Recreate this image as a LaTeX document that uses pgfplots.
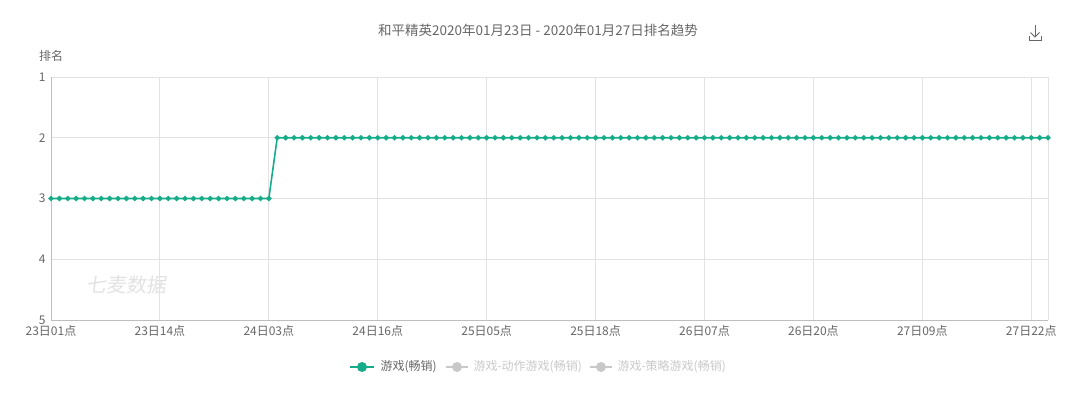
\documentclass[border=0pt]{standalone}
\usepackage{fontspec}
\setmainfont{Noto Sans CJK SC}
\usepackage{pgfplots}
\pgfplotsset{compat=1.18}
\definecolor{lgreen}{RGB}{22,172,138}
\definecolor{tgray}{RGB}{102,102,102}
\definecolor{lgray}{RGB}{200,200,200}
\definecolor{ggray}{RGB}{226,226,226}
\definecolor{agray}{RGB}{190,190,190}
\begin{document}
\begin{tikzpicture}[x=1pt,y=1pt]
\path[use as bounding box] (0,0) rectangle (1080,392);
\begin{axis}[
  at={(51pt,72pt)}, anchor=south west,
  scale only axis, width=997pt, height=243pt,
  y dir=reverse, ymin=1, ymax=5, ytick={1,2,3,4,5},
  xmin=0, xmax=119,
  xtick={0,13,26,39,52,65,78,91,104,117},
  xticklabels={23日01点,23日14点,24日03点,24日16点,25日05点,25日18点,26日07点,26日20点,27日09点,27日22点},
  extra x ticks={119}, extra x tick labels={},
  extra x tick style={grid=major, major grid style={ggray, line width=1pt}},
  grid=major, major grid style={ggray, line width=1pt},
  axis x line*=bottom, axis y line*=left,
  axis line style={agray, line width=1pt, -},
  major tick length=0pt,
  tick label style={font=\fontsize{12}{14}\selectfont, text=tgray},
  xticklabel style={yshift=-2pt},
  yticklabel style={xshift=-2pt},
  /pgf/number format/assume math mode=true,
  clip=false,
]
\addplot[lgreen, line width=1.6pt, mark=*, mark size=1.8pt, mark options={fill=lgreen, draw=lgreen}] coordinates {
(0,3)(1,3)(2,3)(3,3)(4,3)(5,3)(6,3)(7,3)(8,3)(9,3)(10,3)(11,3)(12,3)(13,3)(14,3)(15,3)(16,3)(17,3)(18,3)(19,3)(20,3)(21,3)(22,3)(23,3)(24,3)(25,3)(26,3)
(27,2)(28,2)(29,2)(30,2)(31,2)(32,2)(33,2)(34,2)(35,2)(36,2)(37,2)(38,2)(39,2)(40,2)(41,2)(42,2)(43,2)(44,2)(45,2)(46,2)(47,2)(48,2)(49,2)
(50,2)(51,2)(52,2)(53,2)(54,2)(55,2)(56,2)(57,2)(58,2)(59,2)(60,2)(61,2)(62,2)(63,2)(64,2)(65,2)(66,2)(67,2)(68,2)(69,2)(70,2)(71,2)(72,2)(73,2)(74,2)
(75,2)(76,2)(77,2)(78,2)(79,2)(80,2)(81,2)(82,2)(83,2)(84,2)(85,2)(86,2)(87,2)(88,2)(89,2)(90,2)(91,2)(92,2)(93,2)(94,2)(95,2)(96,2)(97,2)(98,2)(99,2)
(100,2)(101,2)(102,2)(103,2)(104,2)(105,2)(106,2)(107,2)(108,2)(109,2)(110,2)(111,2)(112,2)(113,2)(114,2)(115,2)(116,2)(117,2)(118,2)(119,2)
};
\end{axis}
% title
\node[text=tgray, font=\fontsize{13.5}{16}\selectfont] at (538,362) {和平精英2020年01月23日 - 2020年01月27日排名趋势};
% y label
\node[text=tgray, font=\fontsize{12}{14}\selectfont] at (51,336) {排名};
% watermark
\node[text=ggray, font=\fontsize{20}{22}\selectfont, xslant=0.15] at (128,107) {七麦数据};
% download icon
\begin{scope}[draw=tgray, line width=0.9pt]
\draw (1035,367) -- (1035,355);
\draw (1030.5,359.5) -- (1035,355) -- (1039.5,359.5);
\draw (1029,356) -- (1029,352) -- (1041,352) -- (1041,356);
\end{scope}
% legend
\draw[lgreen, line width=1.6pt] (350,25) -- (374,25);
\fill[lgreen] (362,25) circle (5pt);
\node[anchor=west, text=tgray, font=\fontsize{12}{14}\selectfont] at (377,25) {游戏(畅销)};
\draw[lgray, line width=1.6pt] (446,25) -- (468,25);
\fill[lgray] (457,25) circle (5pt);
\node[anchor=west, text=lgray, font=\fontsize{12}{14}\selectfont] at (470,25) {游戏-动作游戏(畅销)};
\draw[lgray, line width=1.6pt] (590,25) -- (612,25);
\fill[lgray] (601,25) circle (5pt);
\node[anchor=west, text=lgray, font=\fontsize{12}{14}\selectfont] at (614,25) {游戏-策略游戏(畅销)};
\end{tikzpicture}
\end{document}
